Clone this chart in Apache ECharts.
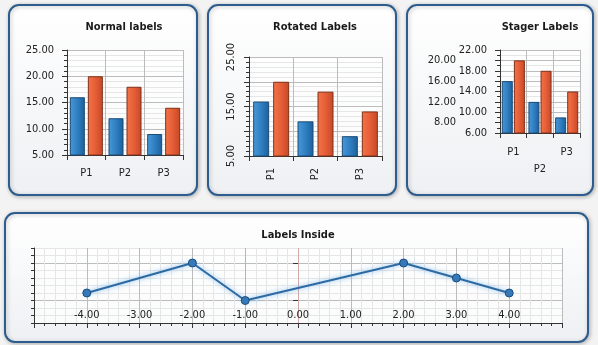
<!DOCTYPE html>
<html>
<head>
<meta charset="utf-8">
<script src="https://cdn.jsdelivr.net/npm/echarts@6/dist/echarts.min.js"></script>
<style>
html,body{margin:0;padding:0;background:#f3f3f3;}
#chart{width:598px;height:345px;}
</style>
</head>
<body>
<div id="chart"></div>
<script>
// ---- data ----
var categories = ['P1', 'P2', 'P3'];
var seriesBlue = [16, 12, 9];
var seriesRed = [20, 18, 14];
var titles = ['Normal labels', 'Rotated Labels', 'Stager Labels', 'Labels Inside'];
var rotatedYLabels = [5, 15, 25];
var stagerNearLabels = [6, 10, 14, 18, 22];
var stagerFarLabels = [8, 12, 16, 20];
var lineX = [-4, -2, -1, 2, 3, 4];
var lineY = [12, 20, 10, 20, 16, 12];
var insideXLabels = [-4, -3, -2, -1, 0, 1, 2, 3, 4];
var insideYMajorTicks = [10, 20];

// ---- styles ----
var FONT = 'DejaVu Sans Condensed';
var TXT = '#222';
var AX = '#333';
var MAJ = '#bcbcbc';
var MIN = '#e6e6e6';

function blueGrad() {
  return new echarts.graphic.LinearGradient(0, 0, 1, 0, [
    {offset: 0, color: '#4a98d6'}, {offset: 0.5, color: '#2f7fc2'}, {offset: 1, color: '#1d5f9a'}]);
}
function redGrad() {
  return new echarts.graphic.LinearGradient(0, 0, 1, 0, [
    {offset: 0, color: '#f27548'}, {offset: 0.5, color: '#e65e36'}, {offset: 1, color: '#c44828'}]);
}
function panel(x, y, w, h) {
  return {
    type: 'rect', z: -10, silent: true,
    shape: {x: x, y: y, width: w, height: h, r: 10},
    style: {
      fill: new echarts.graphic.LinearGradient(0, 0, 0, 1, [
        {offset: 0, color: '#ffffff'}, {offset: 1, color: '#eef0f3'}]),
      stroke: '#2d5d8e', lineWidth: 2,
      shadowBlur: 4, shadowColor: 'rgba(0,0,0,0.25)', shadowOffsetX: 1, shadowOffsetY: 1
    }
  };
}
function fmt(v) { return Number(v).toFixed(2); }
function catX(grid, extra) {
  var ax = {
    type: 'category', gridIndex: grid, data: categories,
    axisLine: {lineStyle: {color: AX}},
    axisTick: {show: true, length: 5, lineStyle: {color: AX}},
    axisLabel: {color: TXT, fontFamily: FONT, fontSize: 11, margin: 11, lineHeight: 14},
    splitLine: {show: true, interval: 0, lineStyle: {color: MAJ}}
  };
  return echarts.util.merge(ax, extra || {}, true);
}
function valY(grid, min, max, interval, minorSplit, extra) {
  var ax = {
    type: 'value', gridIndex: grid, position: 'left', min: min, max: max, interval: interval,
    axisLine: {show: true, lineStyle: {color: AX}},
    axisTick: {show: true, length: 5, lineStyle: {color: AX}},
    minorTick: {show: true, splitNumber: minorSplit, length: 3, lineStyle: {color: AX}},
    axisLabel: {color: TXT, fontFamily: FONT, fontSize: 11, margin: 13, formatter: fmt},
    splitLine: {show: true, lineStyle: {color: MAJ}},
    minorSplitLine: {show: true, lineStyle: {color: MIN}}
  };
  return echarts.util.merge(ax, extra || {}, true);
}
function bars(xi, yi, width, gap) {
  return [
    {type: 'bar', xAxisIndex: xi, yAxisIndex: yi, data: seriesBlue, barWidth: width, barGap: gap,
     itemStyle: {color: blueGrad(), borderColor: '#1b4c78', borderWidth: 1}},
    {type: 'bar', xAxisIndex: xi, yAxisIndex: yi, data: seriesRed, barWidth: width, barGap: gap,
     itemStyle: {color: redGrad(), borderColor: '#80301a', borderWidth: 1}}
  ];
}
function grid(l, t, w, h) {
  return {left: l, top: t, width: w, height: h, show: true, backgroundColor: 'rgba(255,255,255,0.7)',
          borderWidth: 0, containLabel: false, outerBoundsMode: 'none'};
}

var chart = echarts.init(document.getElementById('chart'), null, {renderer: 'canvas'});
var titleStyle = {fontFamily: FONT, fontSize: 11, fontWeight: 'bold', color: '#1a1a1a'};
function title(text, cx, top) {
  return {text: text, left: cx, top: top, padding: 0, textAlign: 'center', textStyle: titleStyle};
}

var option = {
  animation: false,
  backgroundColor: '#f3f3f3',
  graphic: [panel(9, 5, 188, 190), panel(208, 5, 188, 190), panel(407, 5, 186, 190), panel(5, 213, 583, 129)],
  title: [
    title(titles[0], 124, 22),
    title(titles[1], 315, 22),
    title(titles[2], 540, 22),
    title(titles[3], 298, 230)
  ],
  grid: [grid(67, 50, 116, 105), grid(249, 57, 133, 99), grid(500, 50, 80, 83), grid(34, 248, 528, 75)],
  xAxis: [
    catX(0),
    catX(1, {axisLabel: {rotate: 90, margin: 12}}),
    catX(2, {axisLabel: {margin: 11, lineHeight: 17, formatter: function (v, i) { return i % 2 ? '\n' + v : v; }}}),
    {
      type: 'value', gridIndex: 3, position: 'bottom', min: -5, max: 5, interval: 1,
      axisLine: {show: true, onZero: false, lineStyle: {color: AX}},
      axisTick: {show: true, length: 5, lineStyle: {color: AX}},
      minorTick: {show: true, splitNumber: 5, length: 3, lineStyle: {color: AX}},
      axisLabel: {inside: true, margin: 2, color: TXT, fontFamily: FONT, fontSize: 11,
        formatter: function (v) { return insideXLabels.indexOf(v) >= 0 ? fmt(v) : ''; }},
      splitLine: {show: true, lineStyle: {color: [MAJ, MAJ, MAJ, MAJ, '#d2a9a9', '#d2a9a9', MAJ, MAJ, MAJ, MAJ, MAJ]}},
      minorSplitLine: {show: true, lineStyle: {color: MIN}}
    }
  ],
  yAxis: [
    valY(0, 5, 25, 5, 5),
    valY(1, 5, 25, 5, 5, {axisLabel: {rotate: 90, margin: 12,
      formatter: function (v) { return rotatedYLabels.indexOf(v) >= 0 ? fmt(v) : ''; }}}),
    valY(2, 6, 22, 2, 2, {axisLabel: {
      formatter: function (v) { return stagerNearLabels.indexOf(v) >= 0 ? fmt(v) : ''; }}}),
    {
      type: 'value', gridIndex: 2, position: 'left', offset: 0, min: 6, max: 22, interval: 2,
      axisLine: {show: false}, axisTick: {show: false}, splitLine: {show: false},
      axisLabel: {color: TXT, fontFamily: FONT, fontSize: 11, margin: 44,
        formatter: function (v) { return stagerFarLabels.indexOf(v) >= 0 ? fmt(v) : ''; }}
    },
    {
      type: 'value', gridIndex: 3, position: 'left', offset: 0, min: 4, max: 24,
      axisLine: {show: false},
      axisTick: {show: true, length: 5, customValues: insideYMajorTicks, lineStyle: {color: AX}},
      axisLabel: {show: false},
      splitLine: {show: false}
    },
    {
      type: 'value', gridIndex: 3, position: 'left', offset: 0, min: 4, max: 24, interval: 2,
      axisLine: {show: true, lineStyle: {color: AX}},
      axisTick: {show: true, length: 3, lineStyle: {color: AX}},
      axisLabel: {show: false},
      splitLine: {show: true, lineStyle: {color: [MIN, MIN, MIN, MAJ, MIN, MIN, MIN, MIN, MAJ, MIN, MIN]}}
    }
  ],
  series: [].concat(
    bars(0, 0, 15, '20%'),
    bars(1, 1, 16, '25%'),
    bars(2, 2, 11, '10%'),
    [{
      type: 'line', xAxisIndex: 3, yAxisIndex: 4,
      data: lineX.map(function (x, i) { return [x, lineY[i]]; }),
      symbol: 'circle', symbolSize: 8,
      lineStyle: {color: '#2d6aa3', width: 2, shadowColor: 'rgba(90,170,235,0.8)', shadowBlur: 5},
      itemStyle: {color: '#3579b8', borderColor: '#1d4e7c', borderWidth: 1}
    }]
  )
};
chart.setOption(option);
</script>
</body>
</html>
